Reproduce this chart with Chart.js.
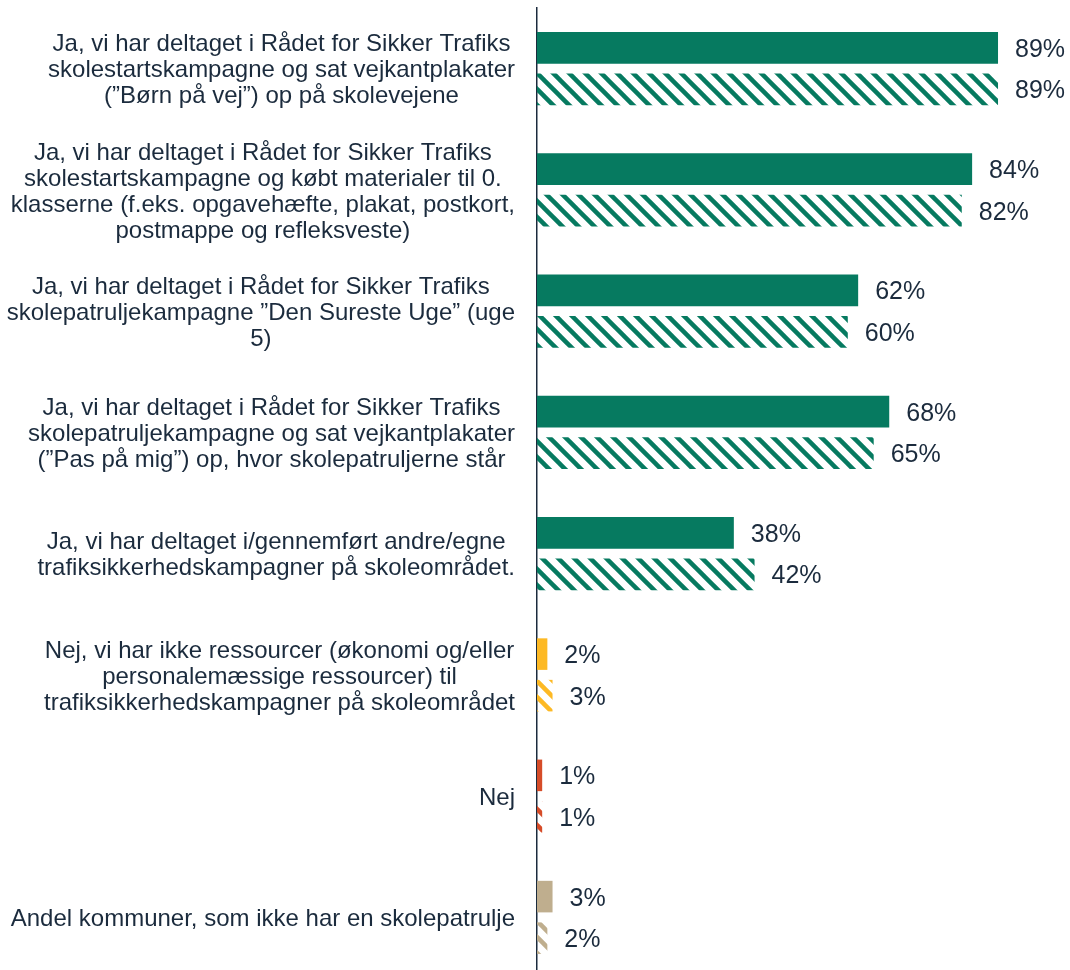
<!DOCTYPE html>
<html>
<head>
<meta charset="utf-8">
<script src="https://cdn.jsdelivr.net/npm/chart.js@4"></script>
<style>
    html, body { margin: 0; padding: 0; background: #fff; overflow: hidden; }
    #wrap { width: 1070px; height: 980px; }
</style>
</head>
<body>
<div id="wrap"><canvas id="campaignChart" width="1070" height="980"></canvas></div>
<script>
// Category labels (one array of lines per bar group)
const categories = [
    ['Ja, vi har deltaget i Rådet for Sikker Trafiks', 'skolestartskampagne og sat vejkantplakater', '(”Børn på vej”) op på skolevejene'],
    ['Ja, vi har deltaget i Rådet for Sikker Trafiks', 'skolestartskampagne og købt materialer til 0.', 'klasserne (f.eks. opgavehæfte, plakat, postkort,', 'postmappe og refleksveste)'],
    ['Ja, vi har deltaget i Rådet for Sikker Trafiks', 'skolepatruljekampagne ”Den Sureste Uge” (uge', '5)'],
    ['Ja, vi har deltaget i Rådet for Sikker Trafiks', 'skolepatruljekampagne og sat vejkantplakater', '(”Pas på mig”) op, hvor skolepatruljerne står'],
    ['Ja, vi har deltaget i/gennemført andre/egne', 'trafiksikkerhedskampagner på skoleområdet.'],
    ['Nej, vi har ikke ressourcer (økonomi og/eller', 'personalemæssige ressourcer) til', 'trafiksikkerhedskampagner på skoleområdet'],
    ['Nej'],
    ['Andel kommuner, som ikke har en skolepatrulje']
];

// Solid bars and hatched bars (percent)
const solidValues = [89, 84, 62, 68, 38, 2, 1, 3];
const hatchedValues = [89, 82, 60, 65, 42, 3, 1, 2];

const barColors = ['#067a60', '#067a60', '#067a60', '#067a60', '#067a60', '#fdb924', '#d64c28', '#bfae8e'];
const textColor = '#1b2b3d';
const fontFamily = "'Liberation Sans', Arial, sans-serif";

// diagonal stripe pattern ( \\\ ) in a given colour
function makeHatch(color) {
    const size = 16;
    const c = document.createElement('canvas');
    c.width = size;
    c.height = size;
    const g = c.getContext('2d');
    g.strokeStyle = color;
    g.lineWidth = 4.5;
    [-size, 0, size].forEach(off => {
        g.beginPath();
        g.moveTo(off - 4, -4);
        g.lineTo(off + size + 4, size + 4);
        g.stroke();
    });
    return g.createPattern(c, 'repeat');
}

const hatchColors = barColors.map(makeHatch);

// category labels: block of centred lines, right edge of block near the axis
const categoryLabels = {
    id: 'categoryLabels',
    afterDraw(chart) {
        const ctx = chart.ctx;
        const yScale = chart.scales.y;
        const rightEdge = chart.chartArea.left - 22;
        const lineHeight = 26;
        ctx.save();
        ctx.font = '24px ' + fontFamily;
        ctx.fillStyle = textColor;
        ctx.textAlign = 'center';
        ctx.textBaseline = 'middle';
        categories.forEach((lines, i) => {
            const blockWidth = Math.max(...lines.map(l => ctx.measureText(l).width));
            const cx = rightEdge - blockWidth / 2;
            const cy = yScale.getPixelForValue(i) + 2;
            const top = cy - (lines.length - 1) * lineHeight / 2;
            lines.forEach((l, j) => ctx.fillText(l, cx, top + j * lineHeight));
        });
        ctx.restore();
    }
};

// value labels at the end of each bar
const valueLabels = {
    id: 'valueLabels',
    afterDatasetsDraw(chart) {
        const ctx = chart.ctx;
        ctx.save();
        ctx.font = '25px ' + fontFamily;
        ctx.fillStyle = textColor;
        ctx.textAlign = 'left';
        ctx.textBaseline = 'middle';
        chart.data.datasets.forEach((ds, di) => {
            chart.getDatasetMeta(di).data.forEach((bar, i) => {
                ctx.fillText(ds.data[i] + '%', bar.x + 17, bar.y + 2);
            });
        });
        ctx.restore();
    }
};

new Chart(document.getElementById('campaignChart').getContext('2d'), {
    type: 'bar',
    data: {
        labels: categories.map(c => c.join(' ')),
        datasets: [
            {
                label: 'solid',
                data: solidValues,
                backgroundColor: barColors,
                categoryPercentage: 0.685,
                barPercentage: 0.76
            },
            {
                label: 'hatched',
                data: hatchedValues,
                backgroundColor: hatchColors,
                categoryPercentage: 0.685,
                barPercentage: 0.76
            }
        ]
    },
    options: {
        indexAxis: 'y',
        responsive: false,
        animation: false,
        events: [],
        layout: {
            padding: { left: 537, right: 15, top: 8, bottom: 2 }
        },
        plugins: {
            legend: { display: false },
            tooltip: { enabled: false }
        },
        scales: {
            x: {
                display: false,
                min: 0,
                max: 100
            },
            y: {
                ticks: { display: false },
                grid: { display: false, drawTicks: false },
                border: { display: true, color: textColor, width: 1.5 }
            }
        }
    },
    plugins: [categoryLabels, valueLabels]
});
</script>
</body>
</html>
